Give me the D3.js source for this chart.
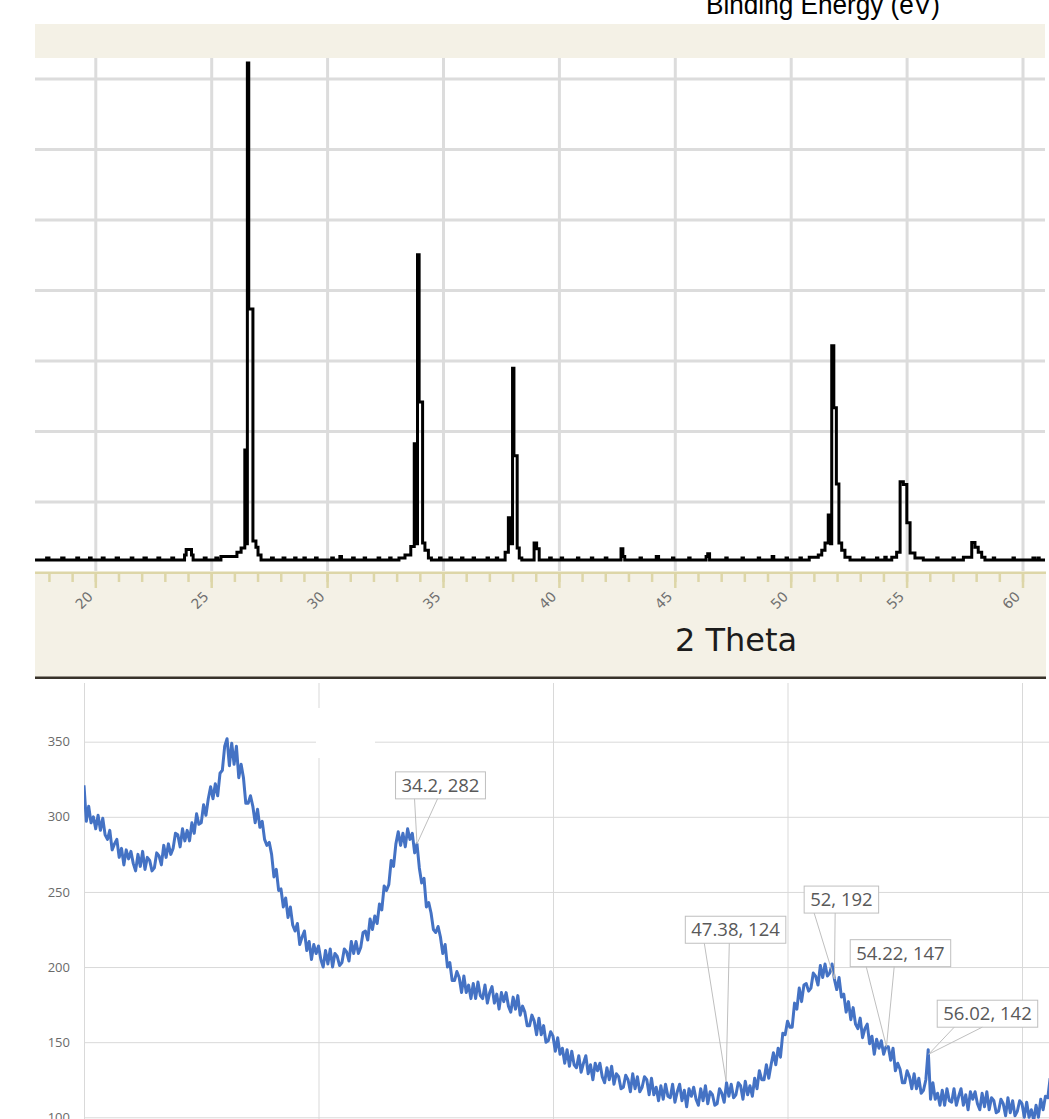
<!DOCTYPE html>
<html>
<head>
<meta charset="utf-8">
<script src="https://cdn.jsdelivr.net/npm/d3@7"></script>
<style>
html, body { margin: 0; padding: 0; background: #fff; }
svg { display: block; }
</style>
</head>
<body>
<svg id="chart" width="1049" height="1119"></svg>
<script>
// ---- top panel: XRD stick pattern (2 theta, counts), drawn as steps
var topTheta = [17.40,17.90,18.00,18.55,18.65,19.20,19.28,19.75,19.82,20.30,20.38,20.90,21.00,21.55,21.62,22.10,22.20,22.70,22.78,23.30,23.38,
  23.85,23.92,24.15,24.22,24.70,24.78,25.20,25.28,25.42,26.11,26.29,26.45,26.51,26.56,26.62,26.80,26.93,27.02,27.15,
  27.60,27.68,28.10,28.18,28.60,28.66,29.00,29.06,29.50,29.57,30.20,30.27,30.55,30.62,31.10,31.17,31.60,31.66,32.20,32.27,32.70,32.76,
  33.10,33.36,33.61,33.76,33.86,33.90,33.97,34.12,34.22,34.37,34.50,34.85,34.92,35.30,35.37,35.80,35.86,36.30,36.36,36.90,36.96,37.30,37.36,
  37.68,37.82,37.94,38.00,38.06,38.20,38.29,38.40,38.93,39.04,39.15,39.60,39.67,40.10,40.16,40.80,40.86,41.40,41.46,42.00,42.07,
  42.68,42.76,42.84,43.50,43.56,44.20,44.30,44.90,44.96,45.60,45.66,46.35,46.42,46.50,47.20,47.26,47.90,47.96,48.60,48.66,49.20,49.27,
  49.80,49.86,50.40,50.46,50.80,51.19,51.34,51.48,51.62,51.72,51.77,51.86,51.97,52.08,52.20,52.34,52.56,53.10,53.16,53.70,53.76,
  54.06,54.12,54.36,54.57,54.72,54.86,55.01,55.15,55.36,55.72,56.30,56.36,57.00,57.06,57.45,57.81,57.95,58.09,58.24,58.38,
  58.74,58.80,59.59,59.65,60.45,60.52,60.66,60.72,60.98];
var topCounts = [17,20,17,20,17,20,17,20,17,20,17,20,17,20,17,20,17,20,17,20,17,
  24,32,24,17,20,17,20,17,22,28,34,173,40,722,373,44,35,24,17,
  20,17,20,17,20,17,20,17,20,17,20,17,22,17,20,17,20,17,20,17,20,17,
  20,24,36,182,40,450,241,41,31,20,17,20,17,20,17,20,17,20,17,20,17,20,17,
  28,77,40,289,165,34,20,17,41,33,17,20,17,20,17,20,17,20,17,20,17,
  33,22,17,20,17,22,17,20,17,20,17,22,26,17,20,17,20,17,20,17,22,17,
  20,17,20,17,21,24,31,41,81,40,321,233,125,41,31,21,17,20,17,20,17,
  21,17,21,28,128,124,70,27,20,17,20,17,20,17,21,42,35,28,21,17,
  20,17,20,17,20,17,20,17,17];
var topGridTheta = [20, 25, 30, 35, 40, 45, 50, 55, 60];
var topGridCounts = [100, 200, 300, 400, 500, 600, 700];
var topMinorTheta = d3.range(18, 61);

// ---- bottom panel: measured pattern, 20.0 to 61.2 deg in 0.1 deg steps
var botStart = 20.0, botStep = 0.1;
var botCounts = [
  321,297,307,296,300,292,301,291,299,288,
  285,291,278,282,285,273,279,268,278,272,
  277,269,264,275,267,277,265,273,271,264,
  266,276,274,268,281,273,282,275,279,289,
  288,280,292,284,291,284,296,289,302,295,
  296,308,301,312,320,312,322,314,329,331,
  347,352,334,349,335,347,326,335,326,309,
  309,314,307,296,305,293,297,285,281,283,
  275,260,265,251,252,240,246,233,240,228,
  224,229,215,220,224,211,217,205,215,209,
  214,205,200,211,202,212,200,209,207,201,
  203,212,210,204,217,209,217,209,213,223,
  224,218,232,225,234,229,242,238,254,251,
  255,271,267,282,290,281,289,280,292,285,
  289,276,282,266,256,259,240,243,236,225,
  223,227,220,209,215,200,203,191,191,197,
  193,183,194,183,188,179,189,179,190,181,
  179,188,176,183,187,176,182,172,183,177,
  183,174,170,180,172,181,168,174,170,161,
  161,168,164,155,166,155,161,150,151,157,
  154,144,153,142,146,136,145,134,144,135,
  133,141,130,136,141,129,135,125,136,131,
  136,127,123,133,125,134,122,129,127,119,
  120,128,125,117,129,119,127,117,120,127,
  125,115,126,115,120,111,121,112,122,114,
  113,122,110,117,122,111,118,107,119,114,
  120,112,108,119,111,121,109,117,115,108,
  109,119,116,110,123,114,122,113,115,123,
  121,112,124,115,121,114,126,119,131,125,
  125,135,126,135,143,135,146,140,156,155,
  164,160,160,176,172,186,177,188,189,184,
  186,196,194,188,201,193,202,194,196,202,
  192,185,193,180,182,170,177,165,173,162,
  159,166,153,159,162,149,154,142,152,146,
  151,142,147,147,138,146,131,136,132,123,
  123,131,127,119,129,119,126,116,118,125,
  145,112,123,112,116,108,118,108,119,111,
  110,119,108,114,119,108,115,105,117,112,
  117,109,105,116,107,117,105,113,111,103,
  104,112,109,101,113,103,111,101,104,111,
  109,100,110,100,105,98,108,100,112,105,
  114,113,126];
var botGridTheta = [20, 30, 40, 50, 60];
var botGridCounts = [100, 150, 200, 250, 300, 350];

// data labels on the bottom chart
var annTheta = [34.2, 47.38, 52, 54.22, 56.02];
var annCounts = [282, 124, 192, 147, 142];
// label box placement (px offset of box centre / bottom from the point) and pointer base
var annDx = [23.5, 9.5, 7, 14, 58.8];
var annDy = [-45, -138, -66, -80, -27];
var annBase = [[19, 42], [19, 44], [10, 31], [16, 44], [17, 45]];

var svg = d3.select("#chart");
var beige = "#f4f1e6", tan = "#ddd6a8";

// ================= TOP PANEL =================
var xTop = d3.scaleLinear().domain([20, 60]).range([95.3, 1022.5]);
var yTop = d3.scaleLinear().domain([0, 700]).range([572, 78.5]);

svg.append("text")
    .attr("x", 706).attr("y", 14)
    .attr("font-family", "Liberation Sans, Arial, sans-serif")
    .attr("font-size", 28)
    .attr("textLength", 234).attr("lengthAdjust", "spacingAndGlyphs")
    .attr("fill", "#000")
    .text("Binding Energy (eV)");

svg.append("rect").attr("x", 35).attr("y", 24).attr("width", 1010).attr("height", 34).attr("fill", beige);
svg.append("rect").attr("x", 35).attr("y", 572).attr("width", 1011).attr("height", 106).attr("fill", beige);

var gx = svg.append("g").attr("transform", "translate(0,571)")
    .call(d3.axisBottom(xTop).tickValues(topGridTheta).tickSize(-513).tickFormat(""));
gx.select(".domain").remove();
gx.selectAll("line").attr("stroke", "#dcdcdc").attr("stroke-width", 3);

var gy = svg.append("g").attr("transform", "translate(35,0)")
    .call(d3.axisLeft(yTop).tickValues(topGridCounts).tickSize(-1010).tickFormat(""));
gy.select(".domain").remove();
gy.selectAll("line").attr("stroke", "#dcdcdc").attr("stroke-width", 3);

svg.append("defs").append("clipPath").attr("id", "clipTop")
  .append("rect").attr("x", 35).attr("y", 56).attr("width", 1010).attr("height", 514);

var topPts = topTheta.map(function(t, i) { return [t, topCounts[i]]; });
svg.append("path")
    .datum(topPts)
    .attr("clip-path", "url(#clipTop)")
    .attr("fill", "none")
    .attr("stroke", "#000")
    .attr("stroke-width", 3)
    .attr("d", d3.line()
        .curve(d3.curveStepAfter)
        .x(function(d) { return xTop(d[0]); })
        .y(function(d) { return yTop(d[1]); }));

// axis line + ticks
svg.append("rect").attr("x", 35).attr("y", 571.5).attr("width", 1011).attr("height", 2.5).attr("fill", tan);
var gMinor = svg.append("g").attr("transform", "translate(0,572)")
    .call(d3.axisBottom(xTop).tickValues(topMinorTheta).tickSize(10).tickFormat(""));
gMinor.select(".domain").remove();
gMinor.selectAll("line").attr("stroke", tan).attr("stroke-width", 2.5);
var gMajor = svg.append("g").attr("transform", "translate(0,572)")
    .call(d3.axisBottom(xTop).tickValues(topGridTheta).tickSize(16).tickFormat(""));
gMajor.select(".domain").remove();
gMajor.selectAll("line").attr("stroke", tan).attr("stroke-width", 2.5);

svg.append("g").selectAll("text")
    .data(topGridTheta)
    .enter().append("text")
      .attr("transform", function(d) { return "translate(" + (xTop(d) - 5) + ",594) rotate(-45)"; })
      .attr("text-anchor", "end")
      .attr("dy", "0.35em")
      .attr("font-family", "DejaVu Sans, sans-serif")
      .attr("font-size", 14)
      .attr("fill", "#707070")
      .text(function(d) { return d; });

svg.append("text")
    .attr("x", 736).attr("y", 651)
    .attr("text-anchor", "middle")
    .attr("font-family", "DejaVu Sans, sans-serif")
    .attr("font-size", 32)
    .attr("fill", "#1c1c1c")
    .text("2 Theta");

svg.append("rect").attr("x", 35).attr("y", 676.5).attr("width", 1011).attr("height", 2.5).attr("fill", "#38332a");

// ================= BOTTOM PANEL =================
var xBot = d3.scaleLinear().domain([20, 60]).range([84, 1022]);
var yBot = d3.scaleLinear().domain([100, 350]).range([1117.3, 741.7]);

var bgx = svg.append("g").attr("transform", "translate(0,1119)")
    .call(d3.axisBottom(xBot).tickValues(botGridTheta).tickSize(-436).tickFormat(""));
bgx.select(".domain").remove();
bgx.selectAll("line").attr("stroke", "#d9d9d9").attr("stroke-width", 1);

var bgy = svg.append("g").attr("transform", "translate(84,0)")
    .call(d3.axisLeft(yBot).tickValues(botGridCounts).tickSize(-965).tickFormat(""));
bgy.select(".domain").remove();
bgy.selectAll("line").attr("stroke", "#d9d9d9").attr("stroke-width", 1);

var bLab = svg.append("g").attr("transform", "translate(84,0)")
    .call(d3.axisLeft(yBot).tickValues(botGridCounts).tickSize(0).tickPadding(14));
bLab.select(".domain").remove();
bLab.selectAll("text")
    .attr("font-family", "Open Sans, sans-serif")
    .attr("font-size", 13)
    .attr("fill", "#6a6a6a");

// blank patch over the grid (covered title area)
svg.append("rect").attr("x", 316).attr("y", 708).attr("width", 59).attr("height", 50).attr("fill", "#fff");

svg.append("defs").append("clipPath").attr("id", "clipBot")
  .append("rect").attr("x", 84).attr("y", 680).attr("width", 965).attr("height", 439);

svg.append("path")
    .datum(botCounts)
    .attr("clip-path", "url(#clipBot)")
    .attr("fill", "none")
    .attr("stroke", "#4472c4")
    .attr("stroke-width", 3)
    .attr("stroke-linejoin", "round")
    .attr("d", d3.line()
        .x(function(d, i) { return xBot(botStart + i * botStep); })
        .y(function(d) { return yBot(d); }));

// data label callouts
var ann = svg.append("g");
annTheta.forEach(function(t, i) {
  var px = xBot(t), py = yBot(annCounts[i]);
  var label = t + ", " + annCounts[i];
  var txt = ann.append("text")
      .attr("font-family", "Open Sans, sans-serif")
      .attr("font-size", 18.5)
      .attr("fill", "#595959")
      .attr("text-anchor", "middle")
      .text(label);
  var w = txt.node().getComputedTextLength() + 12;
  var cx = px + annDx[i], bottom = py + annDy[i], top = bottom - 27, left = cx - w / 2;
  ann.insert("rect", "text")
      .attr("x", left).attr("y", top)
      .attr("width", w).attr("height", 27)
      .attr("fill", "#fff")
      .attr("stroke", "#bfbfbf").attr("stroke-width", 1);
  annBase[i].forEach(function(b) {
    ann.append("line")
        .attr("x1", left + b).attr("y1", bottom)
        .attr("x2", px).attr("y2", py)
        .attr("stroke", "#bfbfbf").attr("stroke-width", 1);
  });
  txt.attr("x", cx).attr("y", top + 20);
  txt.raise();
});
</script>
</body>
</html>
